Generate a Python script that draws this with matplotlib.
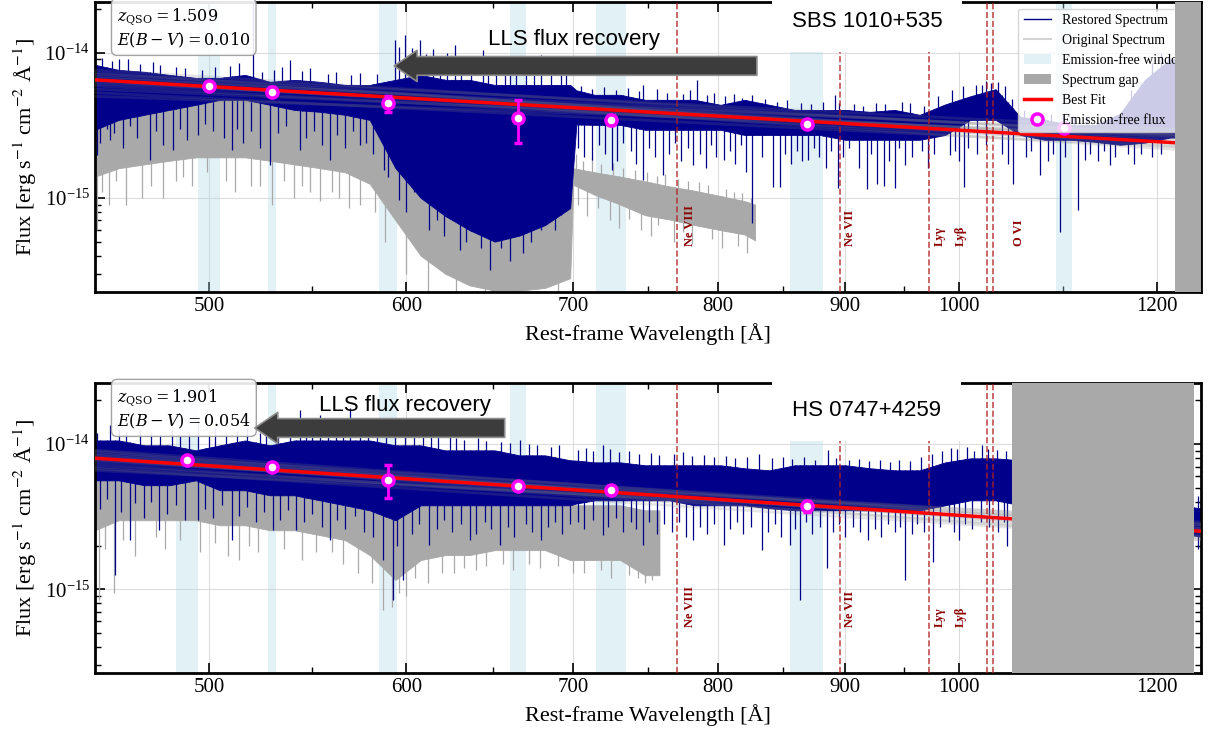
import numpy as np
import matplotlib
matplotlib.use('Agg')
import matplotlib.pyplot as plt
from matplotlib.patches import FancyArrowPatch, Patch
from matplotlib.lines import Line2D
from matplotlib.ticker import FixedLocator, FuncFormatter, NullFormatter, LogFormatterSciNotation

plt.rcParams['font.family'] = ['Liberation Serif', 'DejaVu Serif']
plt.rcParams['mathtext.fontset'] = 'stix'

S = 1e-15  # all flux values below are in units of 1e-15 erg/s/cm2/A

# ---------------- shared ----------------
knot_wave = [450, 460, 471, 482, 494, 505, 517, 529, 541, 554, 567, 580, 594, 608, 622,
             636, 651, 666, 682, 698, 702, 714, 731, 748, 765, 783, 802, 820, 839, 859, 879,
             900, 921, 942, 964, 987, 1010, 1034, 1058, 1082, 1108, 1134, 1160, 1187, 1215, 1250]
line_wave = [770.4, 895.2, 972.5, 1025.7, 1031.9]
line_names = ['Ne VIII', 'Ne VII', 'Lyγ', 'Lyβ', 'O VI']
line_label_wave = [779.5, 904.0, 982.0, 1001.0, 1057.0]
xticks_major = [500, 600, 700, 800, 900, 1000, 1200]
xticks_minor = [550, 650, 750, 850, 950, 1100]
yticks_major = [1e-15, 1e-14]
yticks_minor = [3e-16, 4e-16, 5e-16, 6e-16, 7e-16, 8e-16, 9e-16,
                2e-15, 3e-15, 4e-15, 5e-15, 6e-15, 7e-15, 8e-15, 9e-15, 2e-14]

# ---------------- top panel: SBS 1010+535 ----------------
top_name = 'SBS 1010+535'
top_z = '1.509'
top_ebv = '0.010'
top_rest_hi = [8.23, 7.60, 7.37, 7.02, 6.70, 6.70, 7.02, 6.29, 6.49, 6.29, 5.99, 5.99, 6.49, 7.02, 6.49,
               6.49, 5.99, 5.99, 5.99, 5.99, 5.50, 5.12, 5.12, 4.73, 4.73, 4.73, 4.37, 4.73, 4.37, 4.03,
               4.03, 4.03, 3.91, 4.03, 3.73, 4.40, 5.00, 5.60, 3.60, 3.44, 3.18, 3.18, 3.80, 6.50, 9.00, 9.00]
top_rest_lo = [2.94, 3.44, 3.73, 4.03, 4.37, 4.73, 4.73, 4.37, 4.03, 3.91, 3.73, 3.44, 1.60, 1.00, 0.75,
               0.60, 0.50, 0.55, 0.65, 0.85, 3.20, 3.18, 3.18, 2.94, 2.94, 2.94, 2.94, 2.71, 2.71, 2.71,
               2.71, 2.51, 2.51, 2.51, 2.51, 2.71, 3.44, 3.44, 2.71, 2.51, 2.51, 2.43, 2.32, 2.40, 2.60, 2.60]
top_rest_dip_w = [450.8, 456.3, 473.3, 483.8, 494.8, 510.6, 529.0, 543.9, 559.0, 574.6, 587.8, 596.0,
                  612.9, 630.4, 648.2, 660.4, 679.2, 692.1, 712.1, 725.6, 746.3, 760.3, 782.2, 804.9,
                  825.5, 842.0, 847.5, 869.6, 893.8, 917.9, 926.4, 933.0, 942.3, 951.0, 991.3, 1004.0,
                  1051.0, 1077.0, 1097.0, 1115.5, 1123.0, 1149.0,
                  452, 455, 458, 462, 465, 468, 476, 479, 487, 490, 498, 502, 507, 513, 516, 520, 524,
                  533, 537, 547, 551, 555, 563, 567, 571, 578, 582,
                  590, 600, 604, 617, 621, 626, 634, 639, 643, 655, 664, 668, 673, 684, 688, 695, 698,
                  703, 707, 717, 721, 729, 733, 738, 742, 751, 755, 765, 769, 773, 778, 787, 791, 795,
                  799, 809, 813, 817, 821,
                  833, 851, 856, 861, 865, 874, 878, 884, 888, 898, 903, 911, 922, 937, 946, 957, 966,
                  971, 977, 996, 1000, 1008, 1016, 1025, 1040, 1046, 1063, 1068, 1085, 1090, 1102,
                  1128, 1137, 1143, 1155, 1168, 1175, 1183, 1195, 1205]
top_rest_dip_f = [1.98, 2.51, 1.83, 2.14, 2.71, 2.14, 1.69, 2.14, 1.83, 2.32, 1.56, 0.97,
                  0.60, 0.44, 0.32, 0.37, 0.60, 0.76, 1.83, 1.56, 1.33, 1.44, 1.69, 1.83,
                  0.67, 1.19, 1.19, 1.83, 1.17, 1.15, 1.25, 1.20, 1.17, 1.69, 1.98, 1.19,
                  1.25, 1.44, 0.58, 0.82, 1.83, 1.69,
                  2.4, 3.0, 2.8, 2.2, 3.1, 2.6, 2.9, 2.3, 3.0, 2.5, 3.2, 2.9, 2.6, 3.0, 2.4, 2.9, 2.2,
                  2.8, 3.1, 2.6, 2.9, 2.3, 2.7, 2.2, 2.9, 2.4, 2.0,
                  1.4, 0.8, 1.1, 0.7, 0.55, 0.75, 0.5, 0.6, 0.45, 0.45, 0.55, 0.42, 0.5, 0.7, 0.6, 0.95, 1.1,
                  2.2, 1.9, 2.3, 2.0, 1.8, 2.4, 2.1, 1.7, 2.2, 1.9, 2.0, 2.4, 1.8, 2.2, 2.0, 1.6, 2.3,
                  1.9, 2.1, 1.7, 2.3, 1.5,
                  1.9, 2.0, 1.7, 2.1, 1.8, 2.2, 1.9, 1.6, 2.1, 1.9, 2.2, 1.6, 2.0, 1.8, 2.2, 1.9, 2.1,
                  1.6, 2.0, 2.1, 1.8, 2.2, 2.0, 2.3, 2.0, 1.7, 1.9, 2.1, 1.8, 2.0, 1.9,
                  2.0, 1.8, 2.1, 1.9, 2.0, 1.7, 2.0, 1.9, 2.0]
top_rest_peak_w = [460.0, 475.0, 520.7, 538.9, 593.7, 599.2, 607.6, 615.0, 627.4, 643.7, 660.0,
                   679.2, 692.1, 746.3, 784.8, 891.4, 1021.0, 1030.0,
                   453, 457, 464, 469, 478, 485, 489, 497, 503, 510, 514, 525, 531, 535, 545, 549, 558,
                   562, 570, 575, 584,
                   596, 603, 611, 619, 623, 631, 637, 647, 652, 657, 664, 670, 675, 686, 695,
                   705, 712, 720, 728, 736, 744, 756, 763, 775, 780, 792, 797, 805, 812, 818, 826,
                   836, 845, 853, 864, 872, 882, 895, 907, 915, 926, 934, 948, 955, 968, 980, 993, 1003,
                   1015, 1025, 1036, 1043, 1050, 1061, 1072, 1088, 1100, 1112, 1125, 1140, 1152, 1165,
                   1172, 1195, 1205, 1212]
top_rest_peak_f = [9.0, 8.6, 25.0, 8.9, 12.2, 13.2, 12.2, 10.5, 11.3, 10.4, 9.5,
                   9.64, 8.9, 5.99, 6.49, 5.12, 5.99, 6.2,
                   9.2, 8.8, 9.0, 8.4, 8.2, 8.0, 7.8, 7.6, 7.9, 8.1, 8.5, 7.4, 7.6, 8.0, 7.5, 7.8, 7.1,
                   7.3, 7.0, 7.2, 7.1,
                   11.0, 10.8, 9.7, 9.0, 10.0, 9.4, 8.6, 9.1, 8.2, 8.6, 7.9, 8.3, 8.8, 7.6, 7.4,
                   5.9, 5.6, 5.8, 5.5, 5.7, 5.4, 5.6, 5.3, 5.2, 5.5, 5.1, 5.3, 5.0, 5.2, 4.9, 5.1,
                   4.8, 4.6, 4.7, 4.5, 4.4, 4.6, 4.5, 4.4, 4.3, 4.5, 4.4, 4.6, 4.5, 4.3, 5.0, 5.5, 5.9,
                   6.0, 6.4, 6.3, 5.9, 4.8, 4.0, 3.9, 3.8, 3.7, 3.6, 3.6, 3.5, 3.4, 4.2,
                   5.5, 8.5, 10.0, 9.5]
top_orig_wave = [450, 460, 471, 482, 494, 505, 517, 529, 541, 554, 567, 580, 594, 608, 622,
                 636, 651, 666, 682, 698, 700, 714, 731, 748, 765, 783, 802, 820, 828]
top_orig_hi = [7.02, 6.49, 5.99, 5.99, 5.54, 5.54, 5.54, 5.12, 5.12, 4.73, 4.73, 4.37, 4.03, 3.73, 3.44,
               3.44, 3.18, 3.18, 3.44, 3.73, 1.60, 1.50, 1.40, 1.30, 1.20, 1.12, 1.03, 0.95, 0.90]
top_orig_lo = [1.40, 1.60, 1.70, 1.80, 1.90, 1.90, 1.90, 1.80, 1.70, 1.60, 1.50, 1.25, 0.70, 0.40, 0.30,
               0.25, 0.23, 0.23, 0.24, 0.28, 1.23, 1.05, 0.90, 0.76, 0.71, 0.65, 0.60, 0.56, 0.51]
top_orig_dip_w = [451, 456, 470, 485, 520, 545, 560, 575,
                  453, 459, 463, 474, 479, 488, 492, 499, 508, 512, 524, 530, 536, 541, 549, 554,
                  564, 569, 583, 588, 600, 612, 628, 645, 690,
                  703, 709, 716, 724, 730, 737, 745, 752, 757, 768, 775, 781, 796, 803, 815, 822]
top_orig_dip_f = [0.60, 0.90, 1.00, 1.30, 1.20, 1.20, 1.10, 0.90,
                  1.1, 1.3, 0.9, 1.2, 1.0, 1.4, 1.2, 1.5, 1.3, 1.1, 1.2, 0.9, 1.3, 1.0, 1.1, 0.95,
                  1.0, 0.85, 0.8, 0.5, 0.30, 0.23, 0.21, 0.20, 0.21,
                  0.9, 0.75, 0.85, 0.7, 0.62, 0.72, 0.6, 0.55, 0.65, 0.5, 0.58, 0.48, 0.52, 0.45, 0.47, 0.42]
top_orig_peak_w = [702, 706, 712, 718, 726, 733, 741, 749, 756, 762, 771, 778, 786, 793, 806, 812, 818, 825]
top_orig_peak_f = [2.0, 1.8, 1.9, 1.7, 1.75, 1.6, 1.55, 1.5, 1.42, 1.45, 1.35, 1.3, 1.28, 1.22, 1.15,
                   1.1, 1.08, 1.0]
top_windows = [(495, 505), (528, 532), (585, 595), (660, 670), (715, 735), (855, 882), (1093, 1110)]
top_gap = (1220, 1250)
top_pts_w = [500, 530, 590, 665, 725, 868.5, 1101.5]
top_pts_f = [5.90, 5.37, 4.51, 3.56, 3.44, 3.23, 3.03]
top_pts_elo = [0.35, 0.35, 0.60, 1.17, 0.25, 0.20, 0.20]
top_pts_ehi = [0.40, 0.40, 0.53, 1.16, 0.25, 0.20, 0.20]
top_fit_f = [6.49, 2.34]          # best fit at 450 and 1250 A
top_mc_450 = [7.6, 7.3, 7.1, 6.9, 6.7, 6.5, 6.3, 6.1, 5.9, 5.6, 5.3, 5.0]
top_mc_1250 = [2.6, 2.2, 2.9, 2.4, 2.7, 2.1, 2.5, 2.8, 2.3, 2.6, 2.2, 2.7]

# ---------------- bottom panel: HS 0747+4259 ----------------
bot_name = 'HS 0747+4259'
bot_z = '1.901'
bot_ebv = '0.054'
bot_rest_hi = [10.6, 10.6, 9.81, 9.81, 9.06, 9.81, 10.6, 9.81, 10.6, 10.6, 10.6, 10.6, 9.81, 9.81, 9.06,
               9.06, 9.06, 8.37, 8.37, 7.74, 7.70, 7.49, 7.49, 7.15, 7.15, 7.15, 7.15, 6.82, 6.60, 7.15,
               7.15, 7.15, 6.82, 6.60, 6.60, 7.49, 7.98, 7.98, 7.74, 4.50, 4.40, 4.30, 4.20, 4.10, 3.90, 3.60]
bot_rest_lo = [5.63, 5.63, 5.21, 5.21, 5.63, 4.81, 4.81, 4.44, 4.44, 4.10, 3.79, 3.50, 2.99, 3.79, 3.79,
               3.79, 3.79, 3.79, 3.79, 3.79, 3.90, 4.10, 4.10, 4.10, 4.10, 3.79, 3.79, 3.79, 3.62, 3.50,
               3.50, 3.50, 3.50, 3.50, 3.50, 3.79, 4.10, 4.10, 3.79, 3.00, 2.90, 2.80, 2.70, 2.60, 2.50, 2.30]
bot_rest_dip_w = [458.4, 464.6, 477.3, 494.8, 510.6, 530.2, 542.0, 559.0, 587.1, 592.5, 598.0, 612.9,
                  636.3, 654.2, 679.2, 719.7, 746.3, 782.2, 804.9, 833.5, 854.8, 863.0, 884.9, 919.0,
                  951.0, 975.9, 1000.0, 1045.0,
                  452, 455, 461, 467, 471, 474, 481, 485, 489, 498, 502, 506, 514, 518, 522, 526, 534,
                  538, 546, 550, 555, 563, 567, 572, 577, 582, 595, 603, 607, 617, 621, 626, 631, 640,
                  645, 649, 659, 663, 670, 674, 684, 688, 693, 698,
                  703, 707, 713, 723, 728, 733, 738, 742, 751, 756, 761, 767, 772, 777, 787, 792, 797,
                  809, 814, 819, 825, 838, 843, 848, 859, 868, 873, 879, 890, 895, 900, 906, 912, 925,
                  930, 936, 942, 947, 957, 962, 968, 982, 990, 995, 1005, 1012, 1020, 1028, 1036, 1042,
                  1246]
bot_rest_dip_f = [1.25, 2.18, 2.55, 2.99, 2.18, 2.55, 2.55, 2.18, 1.59, 0.84, 1.16, 2.01,
                  2.18, 2.01, 2.18, 2.36, 2.01, 2.18, 2.01, 1.86, 2.01, 0.84, 1.40, 2.20,
                  1.16, 1.55, 2.20, 2.00,
                  3.6, 4.2, 3.4, 3.9, 3.1, 4.0, 3.3, 3.8, 3.0, 3.6, 3.1, 3.8, 3.2, 3.7, 2.9, 3.4, 3.0,
                  3.5, 2.9, 3.3, 2.7, 3.0, 2.6, 3.2, 2.5, 2.3, 2.0, 2.4, 2.8, 2.6, 3.0, 2.5, 2.8, 2.4,
                  2.9, 2.6, 2.7, 2.3, 2.8, 2.5, 2.7, 2.9, 2.4, 2.8,
                  2.9, 2.6, 3.0, 2.7, 3.1, 2.5, 2.9, 2.6, 2.9, 2.4, 2.8, 2.5, 2.9, 2.3, 2.7, 2.4, 2.8,
                  2.6, 2.9, 2.4, 2.7, 2.5, 2.8, 2.3, 2.6, 2.9, 2.4, 2.7, 2.5, 2.8, 2.3, 2.7, 2.5, 2.6,
                  2.3, 2.8, 2.5, 2.7, 2.4, 2.8, 2.5, 2.7, 2.9, 2.5, 2.8, 2.6, 2.9, 2.7, 2.5, 2.9,
                  1.9]
bot_rest_peak_w = [456.3, 469.0, 494.8, 538.9, 543.9, 554.0, 569.6, 593.7, 599.2, 624.6, 666.4,
                   719.7, 886.0, 1021.0,
                   451, 460, 463, 474, 478, 483, 487, 491, 500, 503, 508, 513, 518, 524, 527, 533, 547,
                   550, 558, 562, 566, 575, 579, 584, 589, 604, 609, 614, 618, 628, 633, 641, 646, 655,
                   660, 672, 677, 686, 691, 703, 708, 713, 724, 730, 737, 744, 752, 758, 768, 775, 781,
                   790, 797, 806, 813, 822, 831, 841, 850, 857, 866, 875, 892, 903, 911, 920, 929, 938,
                   946, 955, 965, 975, 984, 992, 998, 1007, 1014, 1027, 1035, 1044, 1246]
bot_rest_peak_f = [13.5, 12.45, 14.6, 14.6, 17.1, 15.8, 17.8, 12.45, 13.5, 12.45, 10.6,
                   9.81, 9.06, 9.81,
                   12.0, 12.8, 11.9, 12.2, 11.5, 12.6, 11.4, 12.0, 11.8, 12.9, 11.6, 12.3, 13.0, 11.9,
                   12.7, 13.2, 13.6, 12.5, 13.1, 14.5, 12.8, 13.3, 14.0, 12.4, 11.7, 11.9, 12.6, 11.3,
                   11.8, 11.1, 10.7, 11.0, 10.5, 10.4, 10.1, 10.0, 9.8, 9.6, 9.9, 9.1, 9.4, 8.9, 9.2,
                   8.8, 9.0, 8.6, 8.7, 8.4, 8.5, 8.8, 8.3, 8.4, 8.1, 8.3, 8.0, 8.2, 8.5, 8.0, 8.2, 7.9,
                   8.1, 7.8, 8.0, 7.8, 7.9, 7.6, 7.8, 7.5, 7.8, 7.6, 8.2, 8.6, 9.0, 9.4, 9.2, 9.5, 9.0,
                   9.3, 9.1, 8.9, 4.4]
bot_orig_wave = [450, 460, 471, 482, 494, 505, 517, 529, 541, 554, 567, 580, 594, 608, 622,
                 636, 651, 666, 682, 698, 714, 731, 748, 758]
bot_orig_hi = [6.60, 6.60, 6.10, 6.10, 5.63, 5.63, 5.63, 5.21, 5.21, 4.81, 4.81, 4.44, 4.10, 4.10, 4.10,
               4.10, 4.10, 4.10, 3.79, 3.79, 3.79, 3.79, 3.50, 3.50]
bot_orig_lo = [2.55, 2.99, 2.99, 2.99, 2.99, 2.76, 2.76, 2.55, 2.55, 2.36, 2.18, 1.72, 1.16, 1.59, 1.72,
               1.72, 1.86, 1.86, 1.86, 1.59, 1.59, 1.59, 1.25, 1.25]
bot_orig_dip_w = [451.6, 458, 514, 560, 587, 592, 600, 620, 640, 700, 725, 748,
                  454, 462, 467, 476, 480, 487, 496, 503, 509, 519, 523, 536, 545, 552, 566, 574, 581,
                  596, 605, 612, 627, 633, 646, 656, 662, 672, 679, 690, 707, 718, 737, 743, 753]
bot_orig_dip_f = [0.84, 0.95, 1.59, 1.80, 0.72, 0.75, 0.90, 1.30, 1.35, 1.30, 1.20, 1.10,
                  1.9, 2.2, 1.7, 2.3, 1.9, 2.2, 1.8, 2.1, 1.7, 2.0, 1.8, 1.9, 1.6, 1.8, 1.5, 1.3, 1.1,
                  0.95, 1.2, 1.1, 1.3, 1.4, 1.45, 1.5, 1.35, 1.5, 1.4, 1.45, 1.3, 1.35, 1.25, 1.2, 1.15]
bot_windows = [(485, 495), (528, 532), (585, 595), (660, 670), (715, 735), (855, 882)]
bot_gap = (1050, 1242)
bot_pts_w = [490, 530, 590, 665, 725, 868.5]
bot_pts_f = [7.74, 6.92, 5.64, 5.13, 4.81, 3.73]
bot_pts_elo = [0.30, 0.30, 1.41, 0.30, 0.30, 0.30]
bot_pts_ehi = [0.30, 0.30, 1.50, 0.30, 0.30, 0.30]
bot_fit_f = [8.0, 2.51]
bot_mc_450 = [9.1, 8.9, 8.6, 8.4, 8.2, 8.0, 7.8, 7.6, 7.3, 7.0, 6.8, 6.6]
bot_mc_1250 = [2.6, 2.3, 2.8, 2.4, 2.7, 2.2, 2.5, 2.9, 2.3, 2.6, 2.2, 2.8]

NAVY = '#00008b'
GREY = '#a9a9a9'


def draw_band(ax, wave, lo, hi, dip_w, dip_f, peak_w, peak_f, color, z):
    wave = np.asarray(wave)
    lo = np.asarray(lo) * S
    hi = np.asarray(hi) * S
    ax.fill_between(wave, lo, hi, color=color, lw=0.6, zorder=z)
    dw = np.asarray(dip_w)
    ax.vlines(dw, np.asarray(dip_f) * S, np.interp(dw, wave, hi), color=color, lw=0.9, zorder=z)
    if peak_w:
        pw = np.asarray(peak_w)
        ax.vlines(pw, np.interp(pw, wave, lo), np.asarray(peak_f) * S, color=color, lw=0.9, zorder=z)


def draw_panel(ax, d, ylim, name_y, arrow, lls_xy):
    ax.set_xscale('log')
    ax.set_yscale('log')
    ax.set_xlim(450, 1250)
    ax.set_ylim(*ylim)

    for lo, hi in d['windows']:
        ax.axvspan(lo, hi, color='lightblue', alpha=0.35, lw=0, zorder=0.6)
    ax.axvspan(*d['gap'], color=GREY, lw=0, zorder=10)

    draw_band(ax, d['orig_wave'], d['orig_lo'], d['orig_hi'], d['orig_dip_w'], d['orig_dip_f'],
              d['orig_peak_w'], d['orig_peak_f'], GREY, 1.5)
    draw_band(ax, knot_wave, d['rest_lo'], d['rest_hi'], d['rest_dip_w'], d['rest_dip_f'],
              d['rest_peak_w'], d['rest_peak_f'], NAVY, 2)

    for f0, f1 in zip(d['mc_450'], d['mc_1250']):
        ax.plot([450, 1250], [f0 * S, f1 * S], color='gray', alpha=0.2, lw=2.0, zorder=3)
    ax.plot([450, 1250], np.asarray(d['fit']) * S, color='red', lw=2.5, zorder=4)

    ax.errorbar(d['pts_w'], np.asarray(d['pts_f']) * S,
                yerr=[np.asarray(d['pts_elo']) * S, np.asarray(d['pts_ehi']) * S],
                fmt='o', color='magenta', mfc='white', mec='magenta', ms=8, mew=2.5,
                elinewidth=2, capsize=3, capthick=1.5, zorder=5)

    for w, lw_, name in zip(line_wave, line_label_wave, line_names):
        ax.axvline(w, color='firebrick', ls='--', lw=1.2, alpha=0.8, zorder=4)
        ax.text(lw_, 0.16, name, transform=ax.get_xaxis_transform(), rotation=90,
                ha='center', va='bottom', color='darkred', fontsize=9, fontweight='bold', zorder=5)

    ax.text(0.02, 0.985, r'$z_{\rm QSO} = %s$' % d['z'] + '\n' + r'$E(B-V) = %s$' % d['ebv'],
            transform=ax.transAxes, ha='left', va='top', fontsize=11.5, math_fontfamily='dejavuserif',
            bbox=dict(boxstyle='round,pad=0.35', fc='white', ec='0.6', alpha=0.9), zorder=8)
    ax.text(0.698, name_y, d['name'], transform=ax.transAxes, ha='center', va='center',
            fontsize=16, family='Liberation Sans',
            bbox=dict(boxstyle='square,pad=0.9', fc='white', ec='none'), zorder=8)
    ax.text(lls_xy[0], lls_xy[1], 'LLS flux recovery', transform=ax.transAxes, ha='center',
            va='center', fontsize=16, family='Liberation Sans', zorder=8)
    ax.add_patch(FancyArrowPatch(arrow[0], arrow[1], transform=ax.transAxes,
                                 arrowstyle='simple,head_width=0.75,head_length=0.55,tail_width=0.45',
                                 mutation_scale=30, fc='#3c3c3c', ec='#8c8c8c', lw=1.2, zorder=8))

    ax.xaxis.set_major_locator(FixedLocator(xticks_major))
    ax.xaxis.set_major_formatter(FuncFormatter(lambda v, p: '%d' % v))
    ax.xaxis.set_minor_locator(FixedLocator(xticks_minor))
    ax.xaxis.set_minor_formatter(NullFormatter())
    ax.yaxis.set_major_locator(FixedLocator(yticks_major))
    ax.yaxis.set_major_formatter(LogFormatterSciNotation())
    ax.yaxis.set_minor_locator(FixedLocator(yticks_minor))
    ax.yaxis.set_minor_formatter(NullFormatter())
    ax.tick_params(which='both', direction='in', top=True, right=True, labelsize=15)
    ax.tick_params(which='major', length=7, width=1.2)
    ax.tick_params(which='minor', length=4, width=1.0)
    ax.grid(True, which='major', color='#dcdcdc', lw=0.8)
    ax.set_axisbelow(True)
    for sp in ax.spines.values():
        sp.set_linewidth(2)
    ax.set_xlabel('Rest-frame Wavelength [Å]', fontsize=16, labelpad=5)
    ax.set_ylabel(r'Flux [erg s$^{-1}$ cm$^{-2}$ Å$^{-1}$]', fontsize=16, labelpad=4)


top = dict(name=top_name, z=top_z, ebv=top_ebv, windows=top_windows, gap=top_gap,
           rest_hi=top_rest_hi, rest_lo=top_rest_lo, rest_dip_w=top_rest_dip_w, rest_dip_f=top_rest_dip_f,
           rest_peak_w=top_rest_peak_w, rest_peak_f=top_rest_peak_f,
           orig_wave=top_orig_wave, orig_hi=top_orig_hi, orig_lo=top_orig_lo,
           orig_dip_w=top_orig_dip_w, orig_dip_f=top_orig_dip_f,
           orig_peak_w=top_orig_peak_w, orig_peak_f=top_orig_peak_f,
           pts_w=top_pts_w, pts_f=top_pts_f, pts_elo=top_pts_elo, pts_ehi=top_pts_ehi,
           fit=top_fit_f, mc_450=top_mc_450, mc_1250=top_mc_1250)
bot = dict(name=bot_name, z=bot_z, ebv=bot_ebv, windows=bot_windows, gap=bot_gap,
           rest_hi=bot_rest_hi, rest_lo=bot_rest_lo, rest_dip_w=bot_rest_dip_w, rest_dip_f=bot_rest_dip_f,
           rest_peak_w=bot_rest_peak_w, rest_peak_f=bot_rest_peak_f,
           orig_wave=bot_orig_wave, orig_hi=bot_orig_hi, orig_lo=bot_orig_lo,
           orig_dip_w=bot_orig_dip_w, orig_dip_f=bot_orig_dip_f,
           orig_peak_w=[], orig_peak_f=[],
           pts_w=bot_pts_w, pts_f=bot_pts_f, pts_elo=bot_pts_elo, pts_ehi=bot_pts_ehi,
           fit=bot_fit_f, mc_450=bot_mc_450, mc_1250=bot_mc_1250)

fig = plt.figure(figsize=(12.08, 7.32), dpi=100)
ax_top = fig.add_axes([0.0786, 0.6007, 0.9156, 0.3970])
ax_bot = fig.add_axes([0.0786, 0.0806, 0.9156, 0.3966])

draw_panel(ax_top, top, (2.24e-16, 2.24e-14), 0.933,
           ((0.601, 0.779), (0.268, 0.779)), (0.433, 0.869))
draw_panel(ax_bot, bot, (2.65e-16, 2.65e-14), 0.9025,
           ((0.373, 0.844), (0.142, 0.844)), (0.280, 0.923))

handles = [Line2D([], [], color=NAVY, lw=1),
           Line2D([], [], color='lightgray', lw=1.5),
           Patch(fc='lightblue', alpha=0.35, lw=0),
           Patch(fc=GREY, lw=0),
           Line2D([], [], color='red', lw=2.5),
           Line2D([], [], ls='none', marker='o', color='magenta', mfc='white', ms=8, mew=2.5)]
labels = ['Restored Spectrum', 'Original Spectrum', 'Emission-free window', 'Spectrum gap',
          'Best Fit', 'Emission-free flux']
leg = ax_top.legend(handles, labels, loc='upper right', fontsize=10, framealpha=0.8)
leg.set_zorder(7)

fig.savefig('out.png', dpi=100)
